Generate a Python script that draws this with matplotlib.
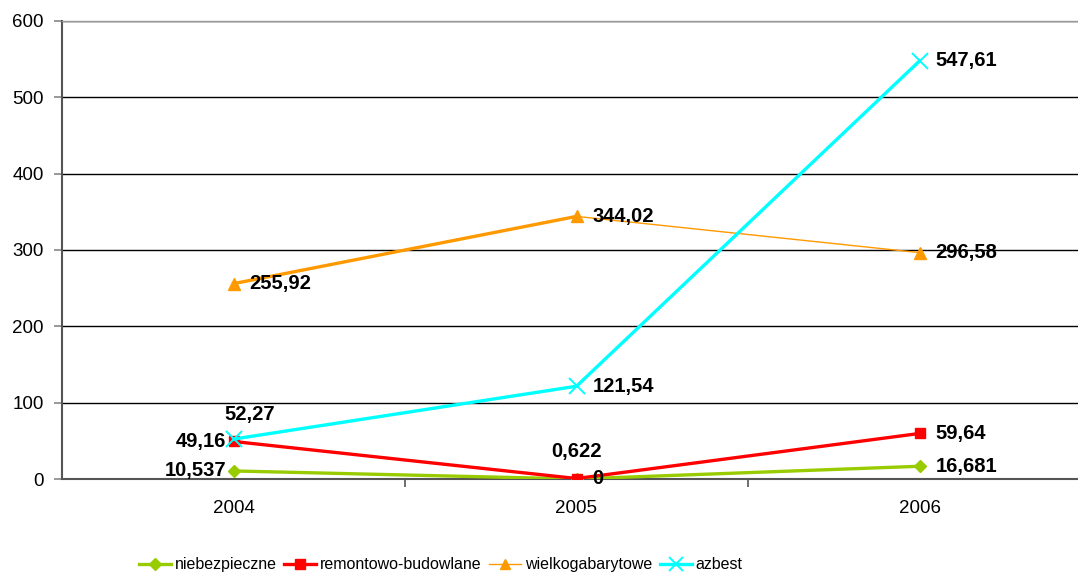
import matplotlib
matplotlib.use("Agg")
import matplotlib.pyplot as plt
from matplotlib.lines import Line2D

# data
years = ["2004", "2005", "2006"]
niebezpieczne = [10.537, 0, 16.681]
remontowo = [49.16, 0.622, 59.64]
wielkogabarytowe = [255.92, 344.02, 296.58]
azbest = [52.27, 121.54, 547.61]
series_names = ["niebezpieczne", "remontowo-budowlane", "wielkogabarytowe", "azbest"]

plt.rcParams["font.family"] = "Liberation Sans"

fig = plt.figure(figsize=(10.78, 5.75), dpi=100)
ax = fig.add_axes([62 / 1078, 96 / 575, 1029 / 1078, 458 / 575])

x = list(range(len(years)))

def fmt(v):
    return f"{v:g}".replace(".", ",")

def label(xi, v, side):
    if side == "right":
        off, ha = (16, 0), "left"
    elif side == "left":
        off, ha = (-7, 0), "right"
    elif side == "above":
        off, ha = (0, 27), "center"
    else:  # above, shifted right
        off, ha = (16, 25), "center"
    ax.annotate(fmt(v), (xi, v), xytext=off, textcoords="offset pixels",
                ha=ha, va="center", fontsize=14.5, fontweight="bold",
                color="black", zorder=10)

# niebezpieczne
ax.plot(x, niebezpieczne, color="#99CC00", lw=2.4, marker="D", ms=6,
        mec="#99CC00", zorder=3)
for xi, v, s in zip(x, niebezpieczne, ["left", "right", "right"]):
    label(xi, v, s)

# remontowo-budowlane
ax.plot(x, remontowo, color="#FF0000", lw=2.4, marker="s", ms=7.5,
        mec="#FF0000", zorder=4)
for xi, v, s in zip(x, remontowo, ["left", "above", "right"]):
    label(xi, v, s)

# wielkogabarytowe: first segment thick, second thin
ax.plot(x[:2], wielkogabarytowe[:2], color="#FF9900", lw=2.4, zorder=5)
ax.plot(x[1:], wielkogabarytowe[1:], color="#FF9900", lw=1.0, zorder=5)
ax.plot(x, wielkogabarytowe, ls="none", marker="^", ms=8, color="#FF9900",
        zorder=5)
for xi, v in zip(x, wielkogabarytowe):
    label(xi, v, "right")

# azbest
ax.plot(x, azbest, color="#00FFFF", lw=2.4, marker="x", ms=11, mew=1.4,
        zorder=6)
for xi, v, s in zip(x, azbest, ["above_r", "right", "right"]):
    label(xi, v, s)

ax.set_xlim(-0.5, 2.5)
ax.set_ylim(0, 600)
ax.set_yticks(range(0, 700, 100))
ax.yaxis.grid(True, color="black", lw=1)
ax.set_axisbelow(True)

ax.set_xticks(x)
ax.set_xticklabels(years)
ax.set_xticks([0.5, 1.5], minor=True)
ax.tick_params(axis="x", which="major", length=0, pad=15, labelsize=13.5)
ax.tick_params(axis="x", which="minor", length=6, width=1.2, color="#555555")
ax.tick_params(axis="y", length=6, width=1.2, color="#888888", labelsize=13.5,
               pad=7)

for sp in ["left", "bottom"]:
    ax.spines[sp].set_color("#555555")
    ax.spines[sp].set_linewidth(1.5)
ax.spines["right"].set_visible(False)
ax.spines["top"].set_color("#999999")
ax.spines["top"].set_linewidth(1)

handles = [
    Line2D([], [], color="#99CC00", lw=2.4, marker="D", ms=6),
    Line2D([], [], color="#FF0000", lw=2.4, marker="s", ms=7),
    Line2D([], [], color="#FF9900", lw=1.0, marker="^", ms=7),
    Line2D([], [], color="#00FFFF", lw=2.4, marker="x", ms=10, mew=1.4),
]
fig.legend(handles, series_names, loc="center", bbox_to_anchor=(0.409, 0.018),
           ncol=4, frameon=False, handlelength=2.0, handletextpad=0.25,
           columnspacing=0.45, prop={"size": 11.5})

fig.savefig("out.png", dpi=100)
